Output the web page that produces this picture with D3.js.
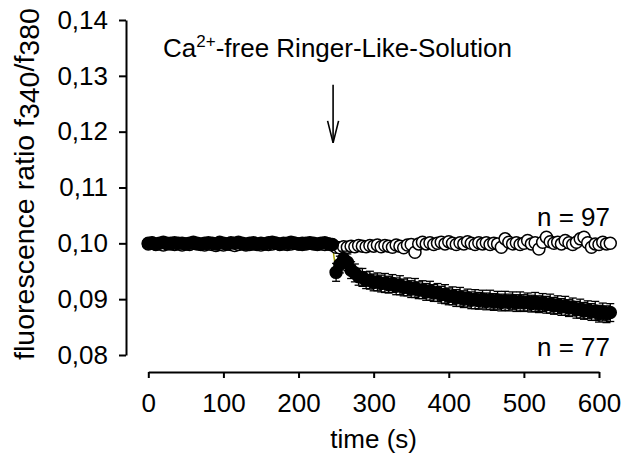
<!DOCTYPE html>
<html lang="en">
  <head>
    <meta charset="utf-8">
    <title>fluorescence ratio over time</title>
    <script src="https://cdn.jsdelivr.net/npm/d3@7"></script>
    <style>
      body { margin: 0; background: #fff; }
      text { font-family: "Liberation Sans", Arial, sans-serif; fill: #000; }
    </style>
  </head>
  <body>
    <div id="chart-area"></div>
    <script>
      const svg_width = 640;
      const svg_height = 461;

      // sampling times (s)
      const times = [
        0,5,10,15,20,25,30,35,40,45,50,55,60,65,70,75,80,85,90,95,
        100,105,110,115,120,125,130,135,140,145,150,155,160,165,170,175,180,185,190,195,
        200,205,210,215,220,225,230,235,240,245,250,255,260,265,270,275,280,285,290,295,
        300,305,310,315,320,325,330,335,340,345,350,355,360,365,370,375,380,385,390,395,
        400,405,410,415,420,425,430,435,440,445,450,455,460,465,470,475,480,485,490,495,
        500,505,510,515,520,525,530,535,540,545,550,555,560,565,570,575,580,585,590,595,
        600,605,610,615
      ];

      // control, n = 97 (open circles)
      const control = [
        0.0999,0.1000,0.0998,0.0999,0.0997,0.0999,0.1000,0.0998,0.0999,0.0997,
        0.0999,0.0998,0.1000,0.0999,0.0998,0.0997,0.0999,0.0998,0.0996,0.0998,
        0.0997,0.0999,0.0998,0.0996,0.0998,0.0999,0.0997,0.0998,0.0999,0.0998,
        0.0997,0.0999,0.0998,0.0999,0.1000,0.0998,0.0999,0.0998,0.0999,0.1000,
        0.0999,0.0998,0.0999,0.1000,0.0999,0.0998,0.0999,0.0998,0.0999,0.0997,
        0.0993,0.0992,0.0994,0.0993,0.0995,0.0994,0.0996,0.0995,0.0994,0.0996,
        0.0995,0.0997,0.0994,0.0996,0.0995,0.0993,0.0997,0.0995,0.0992,0.0997,
        0.0998,0.0984,0.0999,0.1002,0.0999,0.1001,0.0998,0.1000,0.1002,0.0999,
        0.1003,0.1000,0.0998,0.1001,0.0999,0.1003,0.1000,0.0998,0.1001,0.0999,
        0.1001,0.0998,0.1000,0.0999,0.0993,0.1008,0.1002,0.0999,0.1001,0.0998,
        0.1000,0.1005,0.0999,0.1001,0.0990,0.1002,0.1011,0.1003,0.1000,0.1002,
        0.0999,0.1005,0.1001,0.0998,0.1002,0.1008,0.1011,0.1001,0.0993,0.0999,
        0.0998,0.1002,0.0999,0.1000
      ];

      // Ca2+-free, n = 77 (filled circles)
      const caFree = [
        0.1000,0.1001,0.0999,0.1000,0.1002,0.1000,0.0999,0.1001,0.1000,0.1000,
        0.0999,0.1000,0.1002,0.1000,0.0999,0.1000,0.1001,0.1000,0.0999,0.1002,
        0.1000,0.0999,0.1001,0.1000,0.1002,0.1000,0.0999,0.1000,0.1001,0.0999,
        0.1000,0.0999,0.1001,0.1002,0.1000,0.0999,0.1000,0.1000,0.1002,0.1000,
        0.0999,0.1000,0.1000,0.1001,0.1000,0.0999,0.1000,0.1001,0.0999,0.0998,
        0.0948,0.0962,0.0972,0.0966,0.0952,0.0947,0.0940,0.0939,0.0934,0.0934,
        0.0930,0.0931,0.0928,0.0929,0.0926,0.0928,0.0923,0.0925,0.0921,0.0922,
        0.0918,0.0920,0.0916,0.0917,0.0913,0.0915,0.0911,0.0912,0.0908,0.0909,
        0.0905,0.0906,0.0902,0.0904,0.0900,0.0902,0.0898,0.0900,0.0897,0.0900,
        0.0896,0.0899,0.0895,0.0898,0.0894,0.0897,0.0894,0.0897,0.0893,0.0896,
        0.0893,0.0895,0.0892,0.0895,0.0891,0.0894,0.0890,0.0892,0.0888,0.0890,
        0.0886,0.0888,0.0884,0.0886,0.0881,0.0883,0.0879,0.0881,0.0877,0.0879,
        0.0874,0.0877,0.0873,0.0876
      ];

      // SEM of the Ca2+-free series
      const caFreeSem = [
        0.0003,0.0003,0.0003,0.0003,0.0003,0.0003,0.0003,0.0003,0.0003,0.0003,
        0.0003,0.0003,0.0003,0.0003,0.0003,0.0003,0.0003,0.0003,0.0003,0.0003,
        0.0003,0.0003,0.0003,0.0003,0.0003,0.0003,0.0003,0.0003,0.0003,0.0003,
        0.0003,0.0003,0.0003,0.0003,0.0003,0.0003,0.0003,0.0003,0.0003,0.0003,
        0.0003,0.0003,0.0003,0.0003,0.0003,0.0003,0.0003,0.0003,0.0003,0.0004,
        0.0016,0.0015,0.0014,0.0015,0.0015,0.0016,0.0015,0.0016,0.0015,0.0016,
        0.0015,0.0016,0.0015,0.0017,0.0015,0.0016,0.0015,0.0017,0.0015,0.0016,
        0.0015,0.0017,0.0015,0.0016,0.0015,0.0017,0.0015,0.0016,0.0015,0.0017,
        0.0015,0.0016,0.0015,0.0017,0.0015,0.0016,0.0015,0.0017,0.0015,0.0016,
        0.0015,0.0017,0.0015,0.0016,0.0015,0.0017,0.0015,0.0016,0.0015,0.0017,
        0.0015,0.0016,0.0015,0.0017,0.0015,0.0016,0.0015,0.0017,0.0015,0.0016,
        0.0015,0.0017,0.0015,0.0016,0.0015,0.0017,0.0015,0.0016,0.0015,0.0017,
        0.0015,0.0016,0.0015,0.0016
      ];

      const x_ticks = [0, 100, 200, 300, 400, 500, 600];
      const y_ticks = [0.08, 0.09, 0.10, 0.11, 0.12, 0.13, 0.14];

      // stimulus annotation
      const stim_time = 246;
      const arrow_from = 0.1284;
      const arrow_to = 0.1180;

      const font_size = 26;
      const r = 6;

      const x_scale = d3.scaleLinear().domain([0, 600]).range([148.3, 599]);
      const y_scale = d3.scaleLinear().domain([0.08, 0.14]).range([355, 20]);

      const comma = d3.formatLocale({decimal: ',', thousands: '.', grouping: [3], currency: ['', '']});

      const svg = d3.select('#chart-area')
        .append('svg')
        .attr('width', svg_width)
        .attr('height', svg_height);

      // y axis
      svg.append('g')
        .attr('transform', 'translate(126,0)')
        .call(d3.axisLeft(y_scale)
          .tickValues(y_ticks)
          .tickSize(7)
          .tickSizeOuter(0)
          .tickPadding(11)
          .tickFormat(comma.format('.2f')));

      // x axis
      svg.append('g')
        .attr('transform', 'translate(0,372)')
        .call(d3.axisBottom(x_scale)
          .tickValues(x_ticks)
          .tickSize(6)
          .tickSizeOuter(0)
          .tickPadding(16)
          .tickFormat(d3.format('d')));

      svg.selectAll('.domain, .tick line')
        .attr('stroke', '#000')
        .attr('stroke-width', 2);
      svg.selectAll('.tick text')
        .attr('font-family', '"Liberation Sans", Arial, sans-serif')
        .attr('font-size', font_size)
        .attr('fill', '#000');

      // axis titles
      svg.append('text')
        .attr('x', x_scale(300))
        .attr('y', 448)
        .attr('text-anchor', 'middle')
        .attr('font-size', font_size)
        .text('time (s)');

      const y_title = svg.append('text')
        .attr('transform', 'translate(34,' + 184 + ') rotate(-90)')
        .attr('text-anchor', 'middle')
        .attr('font-size', 28.5);
      y_title.append('tspan').text('fluorescence ratio f');
      y_title.append('tspan').attr('dy', 5).text('340');
      y_title.append('tspan').attr('dy', -5).text('/f');
      y_title.append('tspan').attr('dy', 5).text('380');

      // annotation
      const title = svg.append('text')
        .attr('x', 163)
        .attr('y', 57)
        .attr('font-size', font_size);
      title.append('tspan').text('Ca');
      title.append('tspan').attr('dy', -10).attr('font-size', 17).text('2+');
      title.append('tspan').attr('dy', 10).text('-free Ringer-Like-Solution');

      const ax = x_scale(stim_time);
      svg.append('line')
        .attr('x1', ax).attr('x2', ax)
        .attr('y1', y_scale(arrow_from)).attr('y2', y_scale(arrow_to))
        .attr('stroke', '#000').attr('stroke-width', 1.6);
      svg.append('path')
        .attr('d', `M${ax - 5.5},${y_scale(arrow_to) - 22}L${ax},${y_scale(arrow_to)}L${ax + 5.5},${y_scale(arrow_to) - 22}`)
        .attr('fill', 'none').attr('stroke', '#000').attr('stroke-width', 1.6);

      // n labels
      svg.append('text')
        .attr('x', 610).attr('y', 226)
        .attr('text-anchor', 'end')
        .attr('font-size', font_size)
        .text('n = 97');
      svg.append('text')
        .attr('x', 610).attr('y', 356)
        .attr('text-anchor', 'end')
        .attr('font-size', font_size)
        .text('n = 77');

      const ca_data = times.map((t, i) => ({t: t, v: caFree[i], e: caFreeSem[i]}));
      const ctrl_data = times.map((t, i) => ({t: t, v: control[i]}));

      // thin connector at the solution change
      const drop = ca_data.filter(d => d.t === 245 || d.t === 250);
      svg.append('path')
        .datum(drop)
        .attr('d', d3.line().x(d => x_scale(d.t)).y(d => y_scale(d.v)))
        .attr('fill', 'none')
        .attr('stroke', '#a8a400')
        .attr('stroke-width', 1.5);

      // control circles
      svg.append('g')
        .selectAll('circle')
        .data(ctrl_data)
        .enter()
        .append('circle')
        .attr('cx', d => x_scale(d.t))
        .attr('cy', d => y_scale(d.v))
        .attr('r', r)
        .attr('fill', '#fff')
        .attr('stroke', '#000')
        .attr('stroke-width', 1.5);

      // error bars
      const bars = svg.append('g')
        .attr('stroke', '#000')
        .attr('stroke-width', 1.3);
      bars.selectAll('line.bar')
        .data(ca_data)
        .enter()
        .append('line')
        .attr('class', 'bar')
        .attr('x1', d => x_scale(d.t)).attr('x2', d => x_scale(d.t))
        .attr('y1', d => y_scale(d.v - d.e)).attr('y2', d => y_scale(d.v + d.e));
      bars.selectAll('line.cap-lo')
        .data(ca_data)
        .enter()
        .append('line')
        .attr('class', 'cap-lo')
        .attr('x1', d => x_scale(d.t) - 4).attr('x2', d => x_scale(d.t) + 4)
        .attr('y1', d => y_scale(d.v - d.e)).attr('y2', d => y_scale(d.v - d.e));
      bars.selectAll('line.cap-hi')
        .data(ca_data)
        .enter()
        .append('line')
        .attr('class', 'cap-hi')
        .attr('x1', d => x_scale(d.t) - 4).attr('x2', d => x_scale(d.t) + 4)
        .attr('y1', d => y_scale(d.v + d.e)).attr('y2', d => y_scale(d.v + d.e));

      // Ca2+-free circles
      svg.append('g')
        .selectAll('circle')
        .data(ca_data)
        .enter()
        .append('circle')
        .attr('cx', d => x_scale(d.t))
        .attr('cy', d => y_scale(d.v))
        .attr('r', r)
        .attr('fill', '#000')
        .attr('stroke', '#000')
        .attr('stroke-width', 1.5);
    </script>
  </body>
</html>
